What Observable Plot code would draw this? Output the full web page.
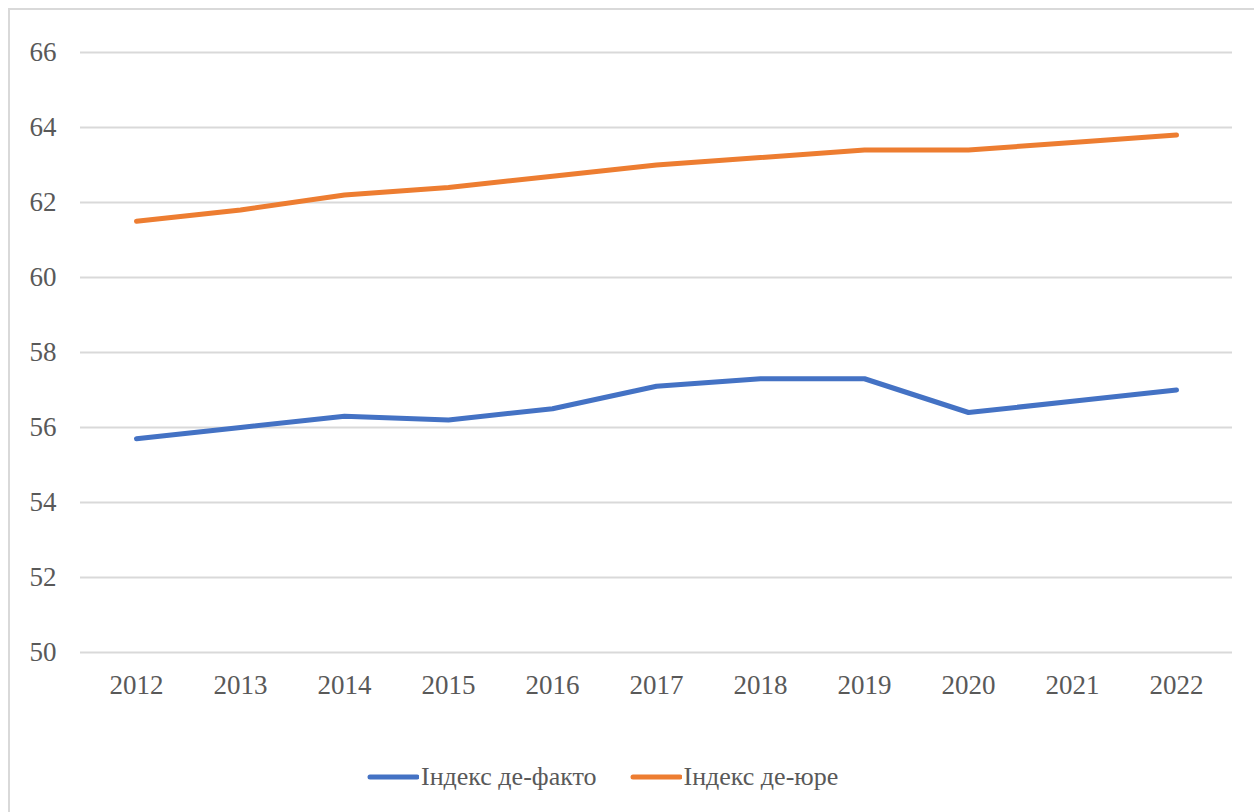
<!DOCTYPE html>
<html>
<head>
<meta charset="utf-8">
<script src="https://cdn.jsdelivr.net/npm/d3@7"></script>
<script src="https://cdn.jsdelivr.net/npm/@observablehq/plot@0.6"></script>
<style>
  html, body { margin: 0; padding: 0; background: #fff; }
  #wrap { position: relative; width: 1254px; height: 812px; overflow: hidden; }
  #frame { position: absolute; left: 8px; top: 8px; width: 1260px; height: 820px; border: 2px solid #d9d9d9; box-sizing: border-box; }
  #chart { position: absolute; left: 0; top: 0; }
  #legend { position: absolute; left: 367px; top: 762px; display: flex; align-items: center; font-size: 26px; color: #595959; white-space: nowrap; }
  .item { display: flex; align-items: center; }
  .item + .item { margin-left: 33px; }
  .item svg { margin-right: 2px; }
</style>
</head>
<body>
<div id="wrap" style="font-family: 'Liberation Serif'">
  <div id="frame"></div>
  <div id="chart"></div>
  <div id="legend" style="font-family: 'Liberation Serif'"></div>
</div>
<script>
const years = ["2012","2013","2014","2015","2016","2017","2018","2019","2020","2021","2022"];
const deFacto = [55.7, 56.0, 56.3, 56.2, 56.5, 57.1, 57.3, 57.3, 56.4, 56.7, 57.0];
const deJure  = [61.5, 61.8, 62.2, 62.4, 62.7, 63.0, 63.2, 63.4, 63.4, 63.6, 63.8];
const seriesNames = ["Індекс де-факто", "Індекс де-юре"];
const seriesColors = ["#4472C4", "#ED7D31"];
const yTicks = [50, 52, 54, 56, 58, 60, 62, 64, 66];

const data = [
  ...years.map((y, i) => ({year: y, value: deFacto[i], series: seriesNames[0]})),
  ...years.map((y, i) => ({year: y, value: deJure[i], series: seriesNames[1]}))
];

const chart = Plot.plot({
  width: 1254,
  height: 730,
  marginLeft: 80,
  marginRight: 22,
  marginTop: 52,
  marginBottom: 78,
  style: {fontFamily: "'Liberation Serif'", fontSize: "27px", color: "#595959", background: "transparent", overflow: "visible"},
  x: {type: "point", domain: years, padding: 0.5, label: null, tickSize: 0, tickPadding: 22},
  y: {domain: [50, 66], ticks: yTicks, label: null, tickSize: 0, tickPadding: 24},
  color: {domain: seriesNames, range: seriesColors},
  marks: [
    Plot.gridY(yTicks, {stroke: "#d9d9d9", strokeOpacity: 1, strokeWidth: 2}),
    Plot.axisX({tickSize: 0, tickPadding: 22, fill: "#595959", fontFamily: "Liberation Serif"}),
    Plot.axisY({ticks: yTicks, tickSize: 0, tickPadding: 24, fill: "#595959", fontFamily: "Liberation Serif"}),
    Plot.line(data, {x: "year", y: "value", z: "series", stroke: "series", strokeWidth: 5, strokeLinecap: "round", strokeLinejoin: "round"})
  ]
});
chart.setAttribute("font-family", "Liberation Serif");
chart.querySelectorAll("text").forEach(t => { t.setAttribute("font-family", "Liberation Serif"); t.style.fontFamily = "'Liberation Serif'"; });
document.getElementById("chart").appendChild(chart);

const legend = document.getElementById("legend");
seriesNames.forEach((name, i) => {
  const item = document.createElement("div");
  item.className = "item";
  item.innerHTML = `<svg width="52" height="8"><line x1="3" y1="4" x2="50" y2="4" stroke="${seriesColors[i]}" stroke-width="5" stroke-linecap="round"/></svg><span style="font-family: 'Liberation Serif'">${name}</span>`;
  legend.appendChild(item);
});
</script>
</body>
</html>
